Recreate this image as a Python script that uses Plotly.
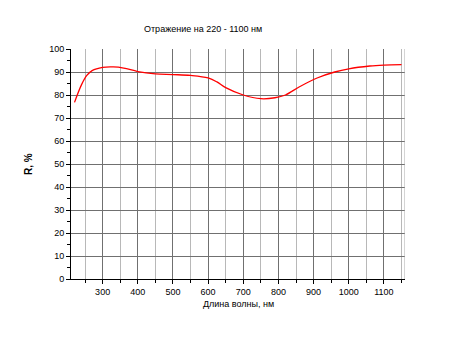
import plotly.graph_objects as go

wavelength = [220, 240, 255, 270, 300, 330, 360, 400, 450, 500, 550, 600, 625, 650,
              700, 750, 790, 820, 860, 910, 960, 1000, 1060, 1100, 1150]
reflectance = [76.8, 84.5, 88.5, 90.6, 92.0, 92.2, 91.7, 90.2, 89.2, 88.9, 88.5, 87.4,
               85.7, 83.2, 80.0, 78.4, 78.8, 80.0, 83.6, 87.4, 90.0, 91.4, 92.6, 93.0, 93.2]

x_ticks = [300, 400, 500, 600, 700, 800, 900, 1000, 1100]
y_ticks = [0, 10, 20, 30, 40, 50, 60, 70, 80, 90, 100]

title_text = "Отражение на 220 - 1100 нм"
x_title = "Длина волны, нм"
y_title = "R, %"

fig = go.Figure()
fig.add_trace(go.Scatter(x=wavelength, y=reflectance, mode="lines",
                         line=dict(color="#ff0000", width=1.3, shape="spline"),
                         showlegend=False))

font = dict(family="Liberation Sans, Arial, sans-serif", size=9, color="#000000")

fig.update_layout(
    width=450, height=337,
    margin=dict(l=63, r=53, t=41, b=66),
    paper_bgcolor="white", plot_bgcolor="white",
    font=font,
    xaxis=dict(range=[210, 1160], tickvals=x_ticks, ticks="outside", ticklen=4,
               tickcolor="black", showline=True, linecolor="black", linewidth=1,
               mirror=False, showgrid=True, gridcolor="#707070", gridwidth=1,
               zeroline=False,
               minor=dict(dtick=50, tick0=0, ticks="outside", ticklen=3,
                          tickcolor="black", showgrid=True, gridcolor="#b8b8b8")),
    yaxis=dict(range=[0, 100], tickvals=y_ticks, ticks="outside", ticklen=4,
               tickcolor="black", showline=True, linecolor="black", linewidth=1,
               showgrid=True, gridcolor="#707070", gridwidth=1, zeroline=False,
               minor=dict(dtick=5, tick0=0, ticks="outside", ticklen=3,
                          tickcolor="black", showgrid=False)),
    shapes=[dict(type="line", xref="x", yref="paper", x0=1160, x1=1160, y0=0, y1=1,
                 line=dict(color="#a8a8a8", width=1))],
    annotations=[
        dict(text=title_text, xref="paper", yref="paper", x=0.395, y=1.0,
             yanchor="middle", yshift=20, showarrow=False, font=dict(size=9)),
        dict(text="<b>" + y_title + "</b>", xref="paper", yref="paper", x=0, y=0.5,
             xanchor="center", yanchor="middle", xshift=-43, textangle=-90,
             showarrow=False, font=dict(size=10)),
        dict(text=x_title, xref="paper", yref="paper", x=0.5, y=0,
             yanchor="middle", yshift=-25, showarrow=False, font=dict(size=9)),
    ],
)

fig.write_html("out.html")
